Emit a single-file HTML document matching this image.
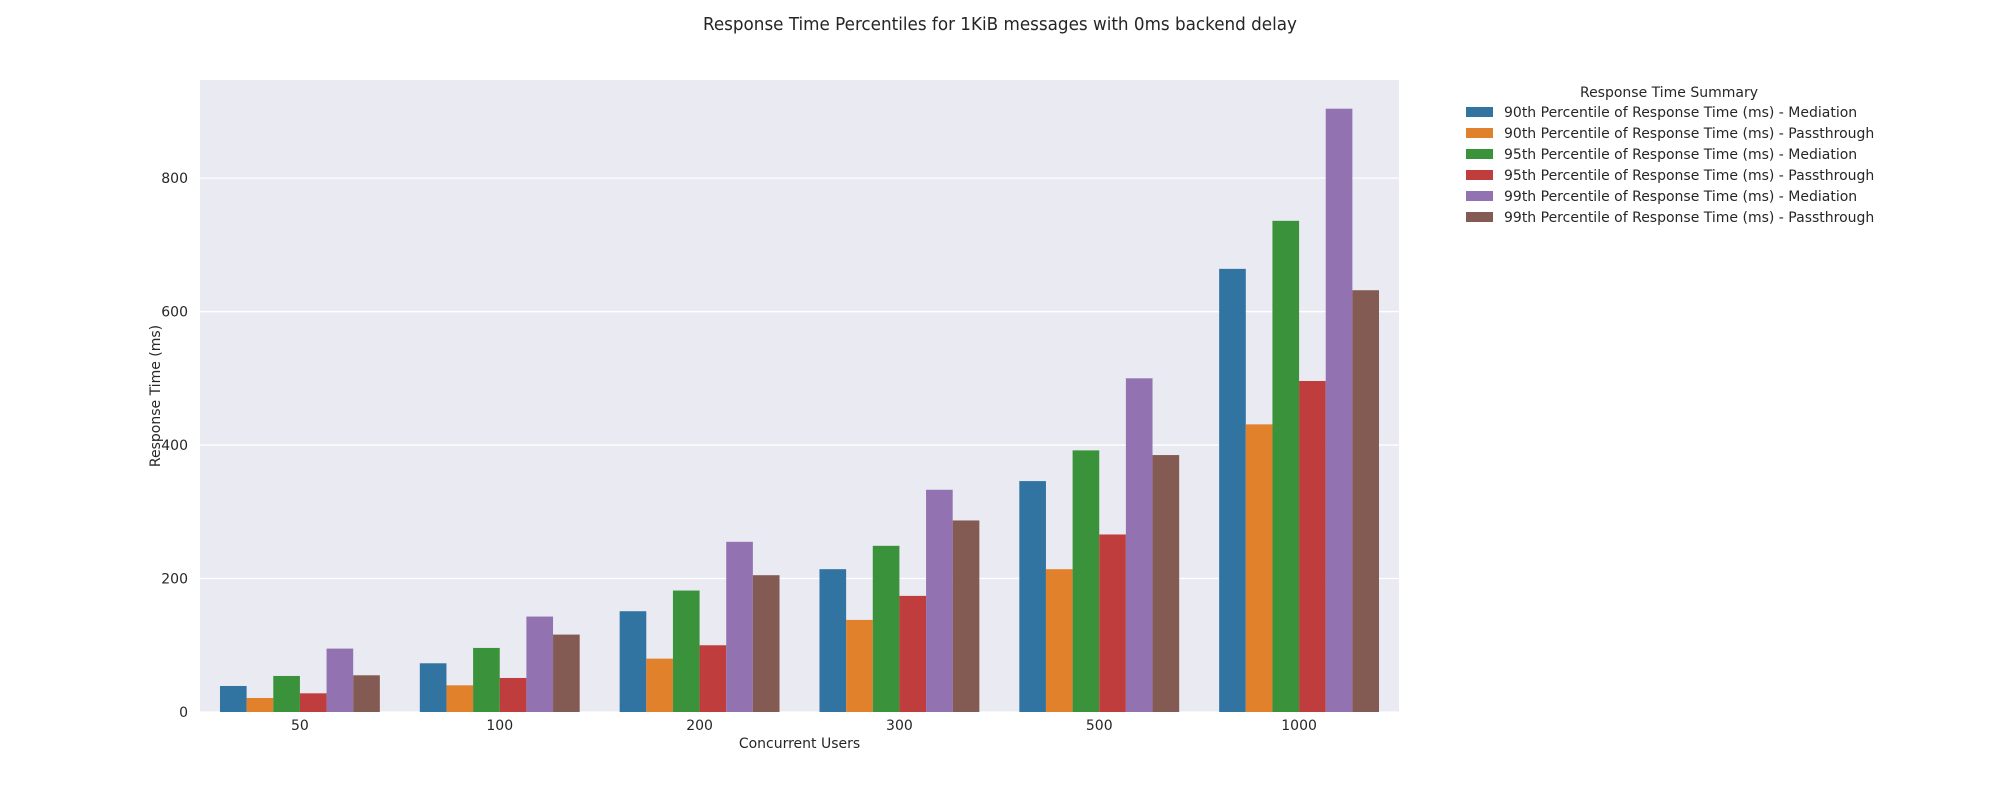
<!DOCTYPE html>
<html><head><meta charset="utf-8"><style>
body{margin:0;background:#fff;}
svg{display:block;font-family:"DejaVu Sans","Liberation Sans",sans-serif;}
</style></head><body>
<svg id="chart" width="2000" height="800" viewBox="0 0 2000 800" xmlns="http://www.w3.org/2000/svg">
<rect width="2000" height="800" fill="#fff"/>
<text x="1000" y="30" text-anchor="middle" font-size="18" fill="#262626" textLength="594" lengthAdjust="spacingAndGlyphs" font-family="DejaVu Sans Condensed, DejaVu Sans, sans-serif">Response Time Percentiles for 1KiB messages with 0ms backend delay</text>
<rect x="200" y="80" width="1199" height="632" fill="#eaeaf2"/>
<g id="grid"></g>
<g id="bars"></g>
<g id="axes"></g>
<g id="legend"></g>
</svg>
<script>
const categories = ["50","100","200","300","500","1000"];
const seriesNames = [
 "90th Percentile of Response Time (ms) - Mediation",
 "90th Percentile of Response Time (ms) - Passthrough",
 "95th Percentile of Response Time (ms) - Mediation",
 "95th Percentile of Response Time (ms) - Passthrough",
 "99th Percentile of Response Time (ms) - Mediation",
 "99th Percentile of Response Time (ms) - Passthrough"];
const p90Mediation = [39, 73, 151, 214, 346, 664];
const p90Passthrough = [21, 40, 80, 138, 214, 431];
const p95Mediation = [54, 96, 182, 249, 392, 736];
const p95Passthrough = [28, 51, 100, 174, 266, 496];
const p99Mediation = [95, 143, 255, 333, 500, 904];
const p99Passthrough = [55, 116, 205, 287, 385, 632];
const yTicks = [0, 200, 400, 600, 800];
const colors = ["#3274a1","#e1812c","#3a923a","#c03d3e","#9372b2","#845b53"];
const series = [p90Mediation,p90Passthrough,p95Mediation,p95Passthrough,p99Mediation,p99Passthrough];

const NS="http://www.w3.org/2000/svg";
const L=200,R=1399,T=80,B=712,YMAX=947;
function y(v){return B-(v/YMAX)*(B-T);}
const gw=(R-L)/categories.length;
function xc(i){return L+gw*(i+0.5);}
const bw=gw*0.8/series.length;
function mk(tag,attrs,parent,text){const e=document.createElementNS(NS,tag);for(const k in attrs)e.setAttribute(k,attrs[k]);if(text!==undefined)e.textContent=text;parent.appendChild(e);return e;}
const grid=document.getElementById('grid'),bars=document.getElementById('bars'),axes=document.getElementById('axes'),leg=document.getElementById('legend');
yTicks.forEach(t=>{
 const l=mk('line',{x1:L,x2:R,y1:y(t),y2:y(t),stroke:'#fff','stroke-width':1.3},grid);
 
 
 const tx=mk('text',{x:L-12,y:y(t)+5,'text-anchor':'end','font-size':14,fill:'#262626'},axes,String(t));
 
 
});
categories.forEach((c,i)=>{
 series.forEach((s,j)=>{
  const x0=xc(i)-gw*0.4+j*bw;
  const r=mk('rect',{x:x0,y:y(s[i]),width:bw,height:B-y(s[i]),fill:colors[j]},bars);
  
  
 });
 const tx=mk('text',{x:xc(i),y:B+18,'text-anchor':'middle','font-size':14,fill:'#262626'},axes,c);
 
 
});
const xt=mk('text',{x:(L+R)/2,y:B+36,'text-anchor':'middle','font-size':14,fill:'#262626'},axes,'Concurrent Users');


const yt=mk('text',{x:0,y:0,'text-anchor':'middle','font-size':14,fill:'#262626',transform:'translate(160,'+((T+B)/2)+') rotate(-90)'},axes,'Response Time (ms)');


const lt=mk('text',{x:1669,y:97,'text-anchor':'middle','font-size':14,fill:'#262626'},leg,'Response Time Summary');


seriesNames.forEach((n,j)=>{
 const yy=112+j*21;
 const g=mk('g',{},leg);
 
 
 mk('rect',{x:1466,y:yy-5,width:27,height:10,fill:colors[j]},g);
 mk('text',{x:1504,y:yy+5,'font-size':14,fill:'#262626'},g,n);
});
</script>
</body></html>
